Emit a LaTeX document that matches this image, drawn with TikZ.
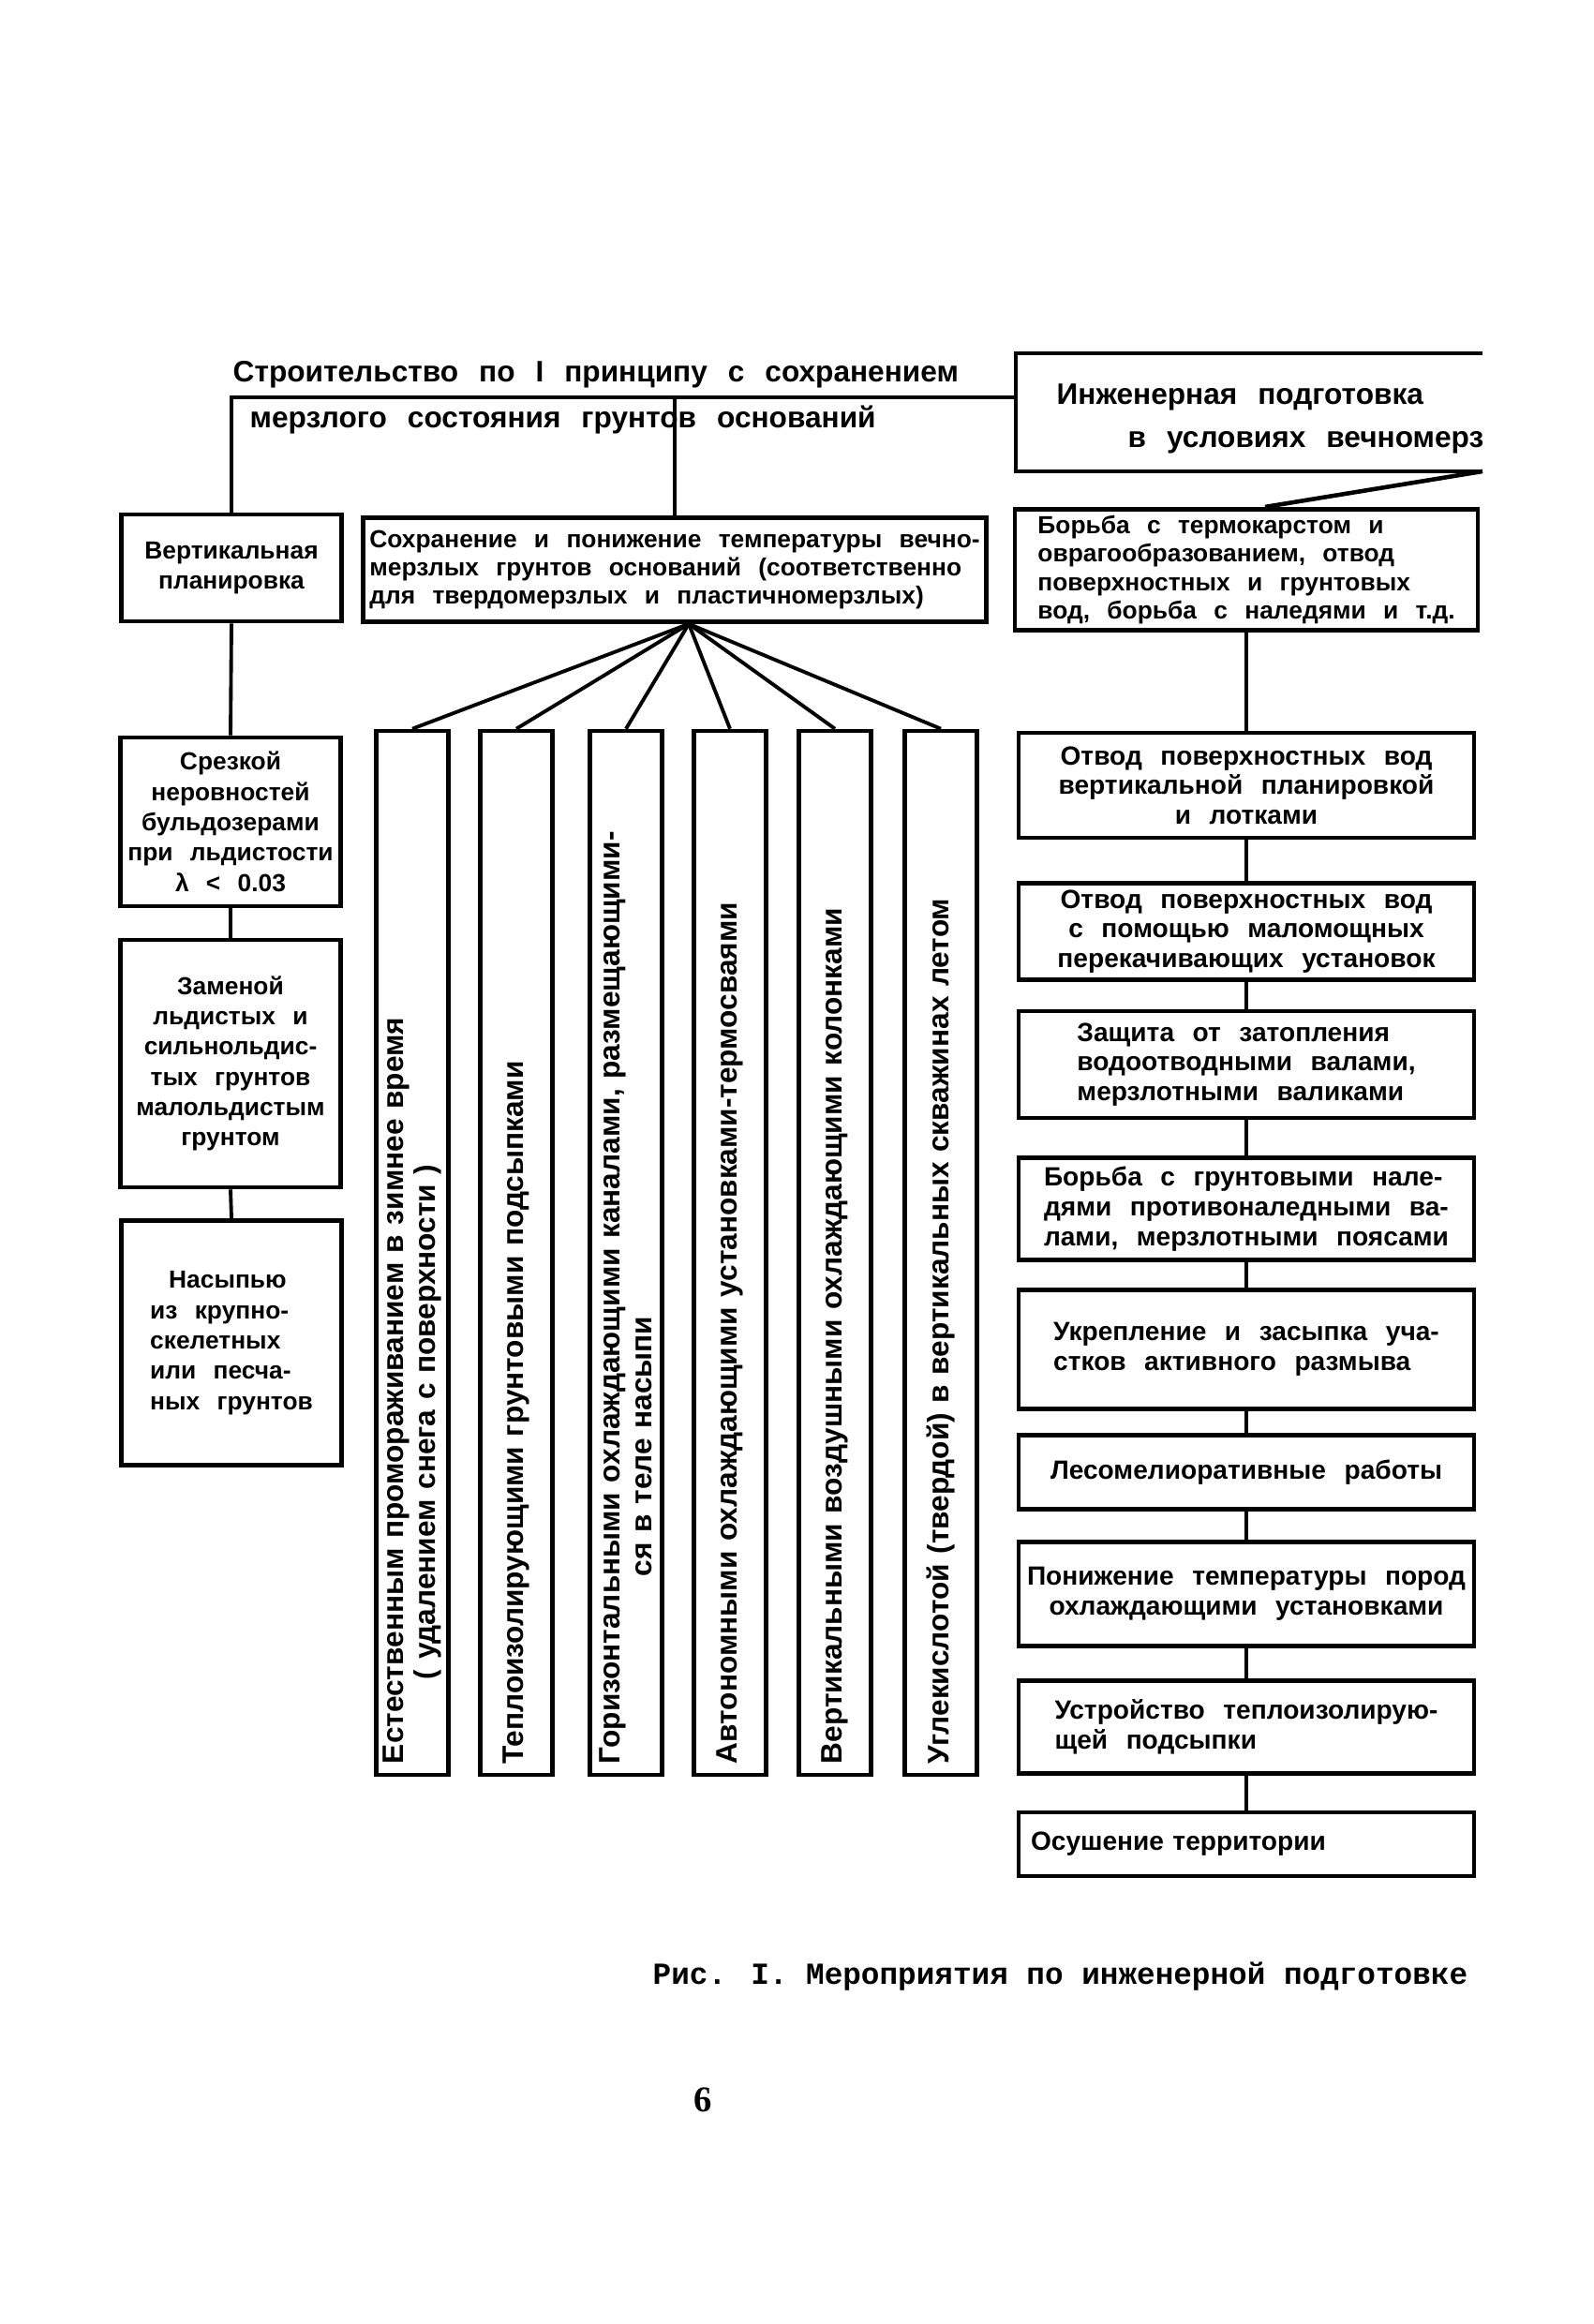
\documentclass[tikz,border=0pt]{standalone}
\usepackage{fontspec}
\newfontfamily\boxfont[WordSpace=2.5]{Liberation Sans}
\newfontfamily\capfont{Liberation Mono}
\newfontfamily\numfont{Liberation Serif}
\usepackage{tikz}

\tikzset{
    box/.style={draw, line width=1.3pt, inner sep=2pt, align=center,
                font={\boxfont\fontsize{8}{9}\selectfont\bfseries}},
    smallbox/.style={box, font={\boxfont\fontsize{7.5}{8.6}\selectfont\bfseries}},
    leftcol/.style={box, minimum width=2.35cm, inner sep=1pt,
                font={\boxfont\fontsize{7.5}{9.2}\selectfont\bfseries}},
    rightcol/.style={box, minimum width=4.86cm},
    vbox/.style={box, rotate=90, minimum width=11.14cm, minimum height=0.77cm,
                 text width=10.9cm, align=left, inner sep=1pt,
                 font={\boxfont\fontsize{9}{9.6}\selectfont\bfseries},
                 execute at begin node=\bfseries},
    headtext/.style={anchor=west, inner sep=0pt,
                 font={\boxfont\fontsize{9}{13}\selectfont\bfseries}},
    link/.style={line width=1.1pt},
}

\begin{document}
\begin{tikzpicture}
    \useasboundingbox[fill=white] (0,0) rectangle (17.01,-24.80);

    % Heading
    \node[headtext] (title1) at (2.48,-4.00) {Строительство по I принципу с сохранением};
    \node[headtext] (title2) at (2.66,-4.48) {мерзлого состояния грунтов оснований};

    % Open box on the right
    \coordinate (ingTL) at (10.84,-3.77);
    \coordinate (ingBL) at (10.84,-5.03);
    \coordinate (ingTR) at (15.82,-3.77);
    \coordinate (ingBR) at (15.82,-5.03);
    \coordinate (ingL) at (10.84,-4.24);
    \draw[line width=1.3pt] (ingTR) -- (ingTL) -- (ingBL) -- (ingBR);
    \node[headtext, align=left] (ingtext) at (11.27,-4.47)
        {Инженерная подготовка\\\hspace*{0.76cm}в условиях вечномерз};

    % Second row
    \node[leftcol, minimum height=1.14cm] (vert) at (2.47,-6.06) {Вертикальная\\планировка};
    \node[smallbox, minimum width=6.55cm, minimum height=1.11cm, align=left] (sokhr) at (7.20,-6.08)
        {Сохранение и понижение температуры вечно-\\мерзлых грунтов оснований (соответственно\\для твердомерзлых и пластичномерзлых)};
    \node[smallbox, minimum width=4.94cm, minimum height=1.13cm, align=left] (bor) at (13.30,-6.08)
        {Борьба с термокарстом и\\оврагообразованием, отвод\\поверхностных и грунтовых\\вод, борьба с наледями и т.д.};

    \draw[link] (vert.north) |- (ingL);
    \draw[link] (sokhr.north) -- (sokhr.north |- ingL);
    \draw[line width=1.3pt] (ingBR) -- ([xshift=2mm]bor.north);

    % Left column
    \node[leftcol, minimum height=1.80cm] (srez) at (2.46,-8.77)
        {Срезкой\\неровностей\\бульдозерами\\при льдистости\\λ < 0.03};
    \node[leftcol, minimum height=2.64cm] (zamen) at (2.46,-11.35)
        {Заменой\\льдистых и\\сильнольдис-\\тых грунтов\\малольдистым\\грунтом};
    \node[leftcol, minimum height=2.61cm, align=left] (nasyp) at (2.47,-14.33)
        {\hspace*{0.2cm}Насыпью\\из крупно-\\скелетных\\или песча-\\ных грунтов};
    \foreach \a/\b in {vert/srez,srez/zamen,zamen/nasyp}
        \draw[link] (\a.south) -- (\b.north);

    % Vertical boxes
    \node[vbox] (v1) at (4.40,-13.37)
        {Естественным промораживанием в зимнее время\\\hspace*{0.9cm}( удалением снега с поверхности )};
    \node[vbox] (v2) at (5.51,-13.37) {Теплоизолирующими грунтовыми подсыпками};
    \node[vbox] (v3) at (6.68,-13.37)
        {Горизонтальными охлаждающими каналами, размещающими-\\\hspace*{2cm}ся в теле насыпи};
    \node[vbox] (v4) at (7.79,-13.37) {Автономными охлаждающими установками-термосваями};
    \node[vbox] (v5) at (8.91,-13.37) {Вертикальными воздушными охлаждающими колонками};
    \node[vbox] (v6) at (10.04,-13.37) {Углекислотой (твердой) в вертикальных скважинах летом};
    \foreach \i in {1,...,6}
        \draw[link] ([xshift=1.5mm]sokhr.south) -- (v\i.east);

    % Right column
    \node[rightcol, minimum height=1.12cm] (r1) at (13.30,-8.38)
        {Отвод поверхностных вод\\вертикальной планировкой\\и лотками};
    \node[rightcol, minimum height=0.99cm] (r2) at (13.30,-9.94)
        {Отвод поверхностных вод\\с помощью маломощных\\перекачивающих установок};
    \node[rightcol, minimum height=1.14cm, align=left] (r3) at (13.30,-11.36)
        {Защита от затопления\\водоотводными валами,\\мерзлотными валиками};
    \node[rightcol, minimum height=1.09cm, align=left] (r4) at (13.30,-12.90)
        {Борьба с грунтовыми нале-\\дями противоналедными ва-\\лами, мерзлотными поясами};
    \node[rightcol, minimum height=1.27cm, align=left] (r5) at (13.30,-14.40)
        {Укрепление и засыпка уча-\\стков активного размыва};
    \node[rightcol, minimum height=0.79cm] (r6) at (13.30,-15.71) {Лесомелиоративные работы};
    \node[rightcol, minimum height=1.11cm] (r7) at (13.30,-17.01)
        {Понижение температуры пород\\охлаждающими установками};
    \node[rightcol, minimum height=0.99cm, align=left] (r8) at (13.30,-18.43)
        {Устройство теплоизолирую-\\щей подсыпки};
    \node[rightcol, minimum height=0.68cm, text width=4.6cm, align=left] (r9) at (13.30,-19.68)
        {Осушение территории};
    \foreach \a/\b in {bor/r1,r1/r2,r2/r3,r3/r4,r4/r5,r5/r6,r6/r7,r7/r8,r8/r9}
        \draw[link] (\a.south) -- (\b.north);

    % Caption
    \node[anchor=west, inner sep=0pt, font={\capfont\fontsize{9.3}{11}\selectfont\bfseries}] (caption)
        at (6.96,-21.09) {Рис. I. Мероприятия по инженерной подготовке};
    \node[inner sep=0pt, font={\numfont\fontsize{11}{13}\selectfont\bfseries}] (pagenum)
        at (7.50,-22.41) {6};
\end{tikzpicture}
\end{document}
